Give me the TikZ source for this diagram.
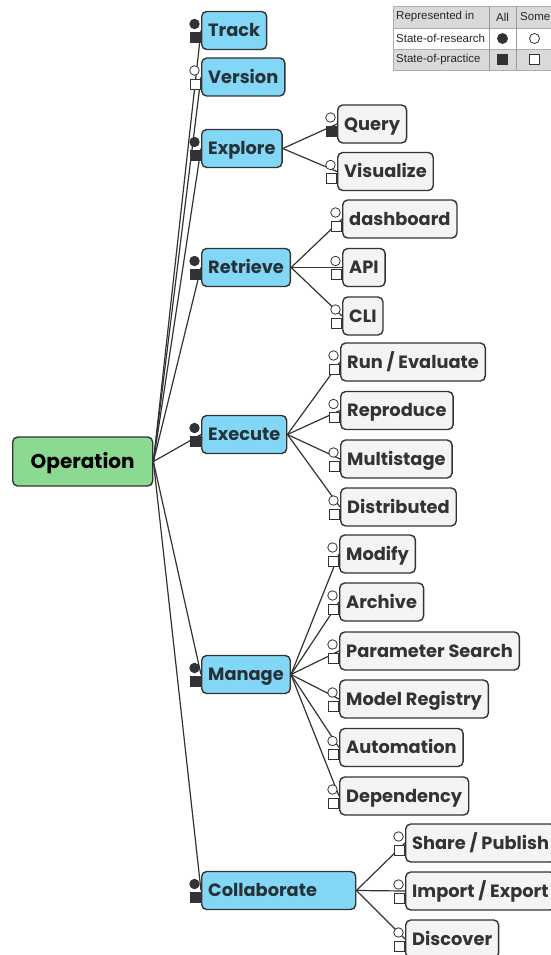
\documentclass[tikz,border=0pt]{standalone}
\usepackage{fontspec}
\setmainfont{Poppins}
\newfontfamily\tablefont{Liberation Sans}
\usepackage{xcolor}
\usetikzlibrary{positioning}

\definecolor{opgreen}{HTML}{8CD992}
\definecolor{catblue}{HTML}{82D7F7}
\definecolor{leafgray}{HTML}{F4F4F4}
\definecolor{edgegray}{HTML}{333333}
\definecolor{cattext}{HTML}{263238}
\definecolor{cellgray}{HTML}{D9D9D9}
\definecolor{rulegray}{HTML}{9A9A9A}

\tikzset{
  box/.style={draw=edgegray, line width=1.4pt, rounded corners=5pt, anchor=west,
    inner xsep=6.5pt, minimum height=38pt, text height=12.5pt, text depth=0pt,
    font=\fontsize{17.8}{19}\selectfont\bfseries},
  rootbox/.style={box, fill=opgreen, text=black, minimum height=49pt, minimum width=140pt,
    text height=14pt, font=\fontsize{20}{22}\selectfont\bfseries},
  catbox/.style={box, fill=catblue, text=cattext},
  leafbox/.style={box, fill=leafgray, text=edgegray},
  link/.style={draw=edgegray, line width=1.2pt},
  allcirc/.style={circle, draw=edgegray, fill=edgegray, line width=0.8pt, inner sep=0pt, minimum size=9.5pt},
  somecirc/.style={circle, draw=edgegray, fill=white, line width=0.8pt, inner sep=0pt, minimum size=9.5pt},
  allsq/.style={rectangle, draw=edgegray, fill=edgegray, line width=0.8pt, inner sep=0pt, minimum size=10pt},
  somesq/.style={rectangle, draw=edgegray, fill=white, line width=0.8pt, inner sep=0pt, minimum size=10pt},
  legtext/.style={font=\tablefont\fontsize{11.5}{13}\selectfont, text=black!85, inner sep=0pt}
}

% circle and square in front of a node: name, circle style, square style
\newcommand{\statusmarks}[3]{%
  \node[#2] (#1-c) at ([shift={(-6.5,-6.5)}]#1.west) {};
  \node[#3] (#1-s) at ([shift={(-6,7)}]#1.west) {};
}

\begin{document}
\begin{tikzpicture}[x=1pt,y=-1pt]
\clip (0,0) rectangle (551,955);

% root and categories
\node[rootbox] (op) at (12,461.5) {Operation};
\node[catbox] (track) at (201,30.5) {Track};
\node[catbox] (version) at (201,77) {Version};
\node[catbox] (explore) at (201,148.5) {Explore};
\node[catbox] (retrieve) at (201,267.5) {Retrieve};
\node[catbox] (execute) at (201,434.5) {Execute};
\node[catbox] (manage) at (201,674.5) {Manage};
\node[catbox, text width=141pt] (collab) at (201,890.5) {Collaborate};

% leaves
\node[leafbox] (query) at (337,124) {Query};
\node[leafbox] (visualize) at (337,171.5) {Visualize};
\node[leafbox] (dashboard) at (342,219) {dashboard};
\node[leafbox] (api) at (342,267.5) {API};
\node[leafbox] (cli) at (342,316) {CLI};
\node[leafbox] (run) at (340,362) {Run / Evaluate};
\node[leafbox] (reproduce) at (340,410.5) {Reproduce};
\node[leafbox] (multistage) at (340,459) {Multistage};
\node[leafbox] (distributed) at (340,507) {Distributed};
\node[leafbox] (modify) at (339,554) {Modify};
\node[leafbox] (archive) at (339,602) {Archive};
\node[leafbox] (paramsearch) at (339,651) {Parameter Search};
\node[leafbox] (registry) at (339,699) {Model Registry};
\node[leafbox] (automation) at (339,747.5) {Automation};
\node[leafbox] (dependency) at (339,796) {Dependency};
\node[leafbox] (share) at (405,843) {Share / Publish};
\node[leafbox] (import) at (405,891) {Import / Export};
\node[leafbox] (discover) at (405,939) {Discover};

% connectors
\foreach \c in {track,version,explore,retrieve,execute,manage,collab}
  \draw[link] (op.east) -- (\c.west);
\foreach \c in {query,visualize}
  \draw[link] (explore.east) -- (\c.west);
\foreach \c in {dashboard,api,cli}
  \draw[link] (retrieve.east) -- (\c.west);
\foreach \c in {run,reproduce,multistage,distributed}
  \draw[link] (execute.east) -- (\c.west);
\foreach \c in {modify,archive,paramsearch,registry,automation,dependency}
  \draw[link] (manage.east) -- (\c.west);
\foreach \c in {share,import,discover}
  \draw[link] (collab.east) -- (\c.west);

% markers
\foreach \c in {track,explore,retrieve,execute,manage,collab}
  {\statusmarks{\c}{allcirc}{allsq}}
\statusmarks{version}{somecirc}{somesq}
\statusmarks{query}{somecirc}{allsq}
\foreach \c in {visualize,dashboard,api,cli,run,reproduce,multistage,distributed,
    modify,archive,paramsearch,registry,automation,dependency,share,import,discover}
  {\statusmarks{\c}{somecirc}{somesq}}

% legend table
\fill[cellgray] (393,6) rectangle (565,28);
\fill[white] (393,28) rectangle (565,49);
\fill[cellgray] (393,49) rectangle (565,70);
\draw[cellgray!80!black, line width=0.6pt] (393,6) rectangle (565,70);
\draw[cellgray!80!black, line width=0.6pt] (393,28) -- (565,28) (393,49) -- (565,49);
\draw[rulegray, line width=1pt] (489,6) -- (489,70) (516,6) -- (516,70);
\node[legtext, anchor=west] (hdr) at (396,17) {Represented in};
\node[legtext] (hall) at (502.5,17) {All};
\node[legtext, anchor=west] (hsome) at (520,17) {Some};
\node[legtext, anchor=west] (research) at (396,38.5) {State-of-research};
\node[legtext, anchor=west] (practice) at (396,59.5) {State-of-practice};
\node[allcirc, minimum size=10pt] (rall) at (502.5,38.5) {};
\node[somecirc, minimum size=10pt] (rsome) at (534.5,38.5) {};
\node[allsq] (pall) at (502.5,59.5) {};
\node[somesq] (psome) at (534.5,59.5) {};
\end{tikzpicture}
\end{document}
